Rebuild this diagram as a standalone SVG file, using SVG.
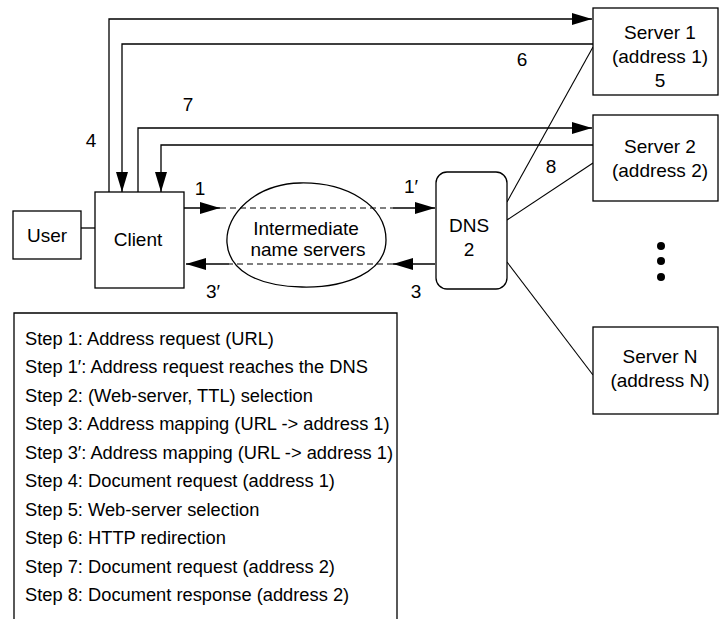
<svg xmlns="http://www.w3.org/2000/svg" width="720" height="619" viewBox="0 0 720 619">
  <defs>
    <marker id="arr" viewBox="0 0 20 12" refX="20" refY="6" markerWidth="20" markerHeight="12" markerUnits="userSpaceOnUse" orient="auto">
      <path d="M0,0 L20,6 L0,12 Z" fill="#000"/>
    </marker>
    <style>
      .box { fill: #fff; stroke: #000; stroke-width: 1.3; }
      .ln { fill: none; stroke: #000; stroke-width: 1.3; }
      .thin { fill: none; stroke: #000; stroke-width: 1.1; }
      .dash { fill: none; stroke: #000; stroke-width: 1.1; stroke-dasharray: 6 4; }
      .lbl { font-family: "Liberation Sans", Arial, sans-serif; font-size: 19px; fill: #000; text-anchor: middle; }
      .leg { font-family: "Liberation Sans", Arial, sans-serif; font-size: 18.3px; fill: #000; }
    </style>
  </defs>
  <rect width="720" height="619" fill="#fff"/>

  <!-- connectors -->
  <g id="connectors">
    <!-- step 4: client to server 1 -->
    <path class="ln" d="M109,192 V19 H592" marker-end="url(#arr)"/>
    <!-- step 6: server 1 back to client -->
    <path class="ln" d="M593,44 H122 V192" marker-end="url(#arr)"/>
    <!-- step 7: client to server 2 -->
    <path class="ln" d="M138,192 V128 H592" marker-end="url(#arr)"/>
    <!-- step 8: server 2 back to client -->
    <path class="ln" d="M593,145 H161 V192" marker-end="url(#arr)"/>

    <!-- user to client -->
    <line class="ln" x1="81" y1="228" x2="95" y2="228"/>

    <!-- steps 1 / 1': request through the name servers -->
    <path class="ln" d="M184,208 H220" marker-end="url(#arr)"/>
    <line class="dash" x1="220" y1="208" x2="393" y2="208"/>
    <path class="ln" d="M393,208 H435" marker-end="url(#arr)"/>

    <!-- steps 3 / 3': mapping back to the client -->
    <path class="ln" d="M435,264 H393" marker-end="url(#arr)"/>
    <line class="dash" x1="393" y1="264" x2="229" y2="264"/>
    <path class="ln" d="M229,264 H186" marker-end="url(#arr)"/>

    <!-- DNS to the web servers -->
    <line class="thin" x1="507" y1="202" x2="593" y2="47"/>
    <line class="thin" x1="507" y1="220" x2="593" y2="163"/>
    <line class="thin" x1="507" y1="262" x2="593" y2="375"/>
  </g>

  <!-- step labels -->
  <g id="step-labels">
    <text class="lbl" x="91" y="147">4</text>
    <text class="lbl" x="188" y="111">7</text>
    <text class="lbl" x="200" y="195">1</text>
    <text class="lbl" x="213" y="298">3′</text>
    <text class="lbl" x="411" y="193">1′</text>
    <text class="lbl" x="416" y="298">3</text>
    <text class="lbl" x="522" y="66">6</text>
    <text class="lbl" x="551" y="173">8</text>
  </g>

  <g id="user">
    <rect class="box" x="13" y="211" width="68" height="48"/>
    <text class="lbl" x="47" y="242">User</text>
  </g>

  <g id="client">
    <rect class="box" x="95" y="192" width="89" height="96"/>
    <text class="lbl" x="138" y="246">Client</text>
  </g>

  <g id="name-servers">
    <path class="ln" d="M227,243 C225,214 256,184 300,183 C346,182 386,205 386,240 C386,272 346,288 302,287 C256,286 229,270 227,243 Z"/>
    <text class="lbl" x="306" y="235">Intermediate</text>
    <text class="lbl" x="308" y="256">name servers</text>
  </g>

  <g id="dns">
    <rect class="box" x="436" y="172" width="71" height="117" rx="11" ry="11"/>
    <text class="lbl" x="469" y="232">DNS</text>
    <text class="lbl" x="469" y="256">2</text>
  </g>

  <g id="server-1">
    <rect class="box" x="593" y="8" width="125" height="87"/>
    <text class="lbl" x="660" y="39">Server 1</text>
    <text class="lbl" x="660" y="63">(address 1)</text>
    <text class="lbl" x="660" y="87">5</text>
  </g>

  <g id="server-2">
    <rect class="box" x="593" y="115" width="125" height="86"/>
    <text class="lbl" x="660" y="153">Server 2</text>
    <text class="lbl" x="660" y="177">(address 2)</text>
  </g>

  <g id="more-servers">
    <circle cx="661" cy="246" r="4"/>
    <circle cx="661" cy="261" r="4"/>
    <circle cx="661" cy="277" r="4"/>
  </g>

  <g id="server-n">
    <rect class="box" x="593" y="327" width="125" height="87"/>
    <text class="lbl" x="660" y="363">Server N</text>
    <text class="lbl" x="660" y="387">(address N)</text>
  </g>

  <!-- step legend -->
  <g id="legend">
    <path class="ln" d="M14,619 V313 H397 V619"/>
    <text class="leg" x="25" y="344.5">Step 1: Address request (URL)</text>
    <text class="leg" x="25" y="373">Step 1′: Address request reaches the DNS</text>
    <text class="leg" x="25" y="401.5">Step 2: (Web-server, TTL) selection</text>
    <text class="leg" x="25" y="430">Step 3: Address mapping (URL -&gt; address 1)</text>
    <text class="leg" x="25" y="458.5">Step 3′: Address mapping (URL -&gt; address 1)</text>
    <text class="leg" x="25" y="487">Step 4: Document request (address 1)</text>
    <text class="leg" x="25" y="515.5">Step 5: Web-server selection</text>
    <text class="leg" x="25" y="544">Step 6: HTTP redirection</text>
    <text class="leg" x="25" y="572.5">Step 7: Document request (address 2)</text>
    <text class="leg" x="25" y="601">Step 8: Document response (address 2)</text>
  </g>
</svg>
